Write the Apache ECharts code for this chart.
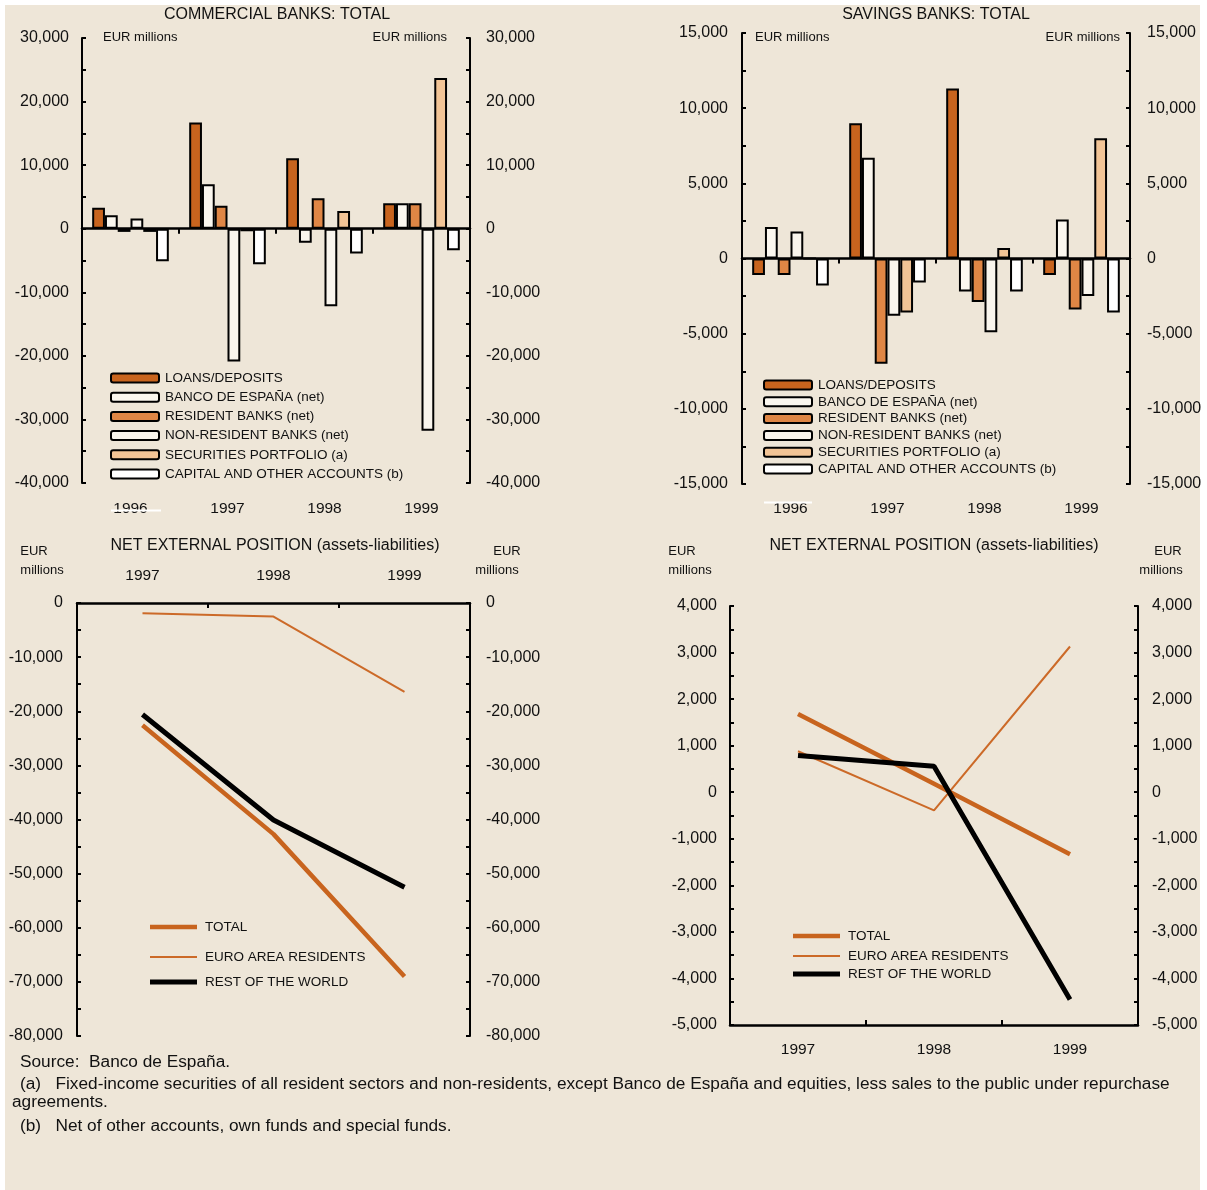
<!DOCTYPE html>
<html><head><meta charset="utf-8">
<script src="https://cdn.jsdelivr.net/npm/echarts@6/dist/echarts.min.js"></script>
<style>
html,body{margin:0;padding:0;background:#fff;}
#wrap{position:relative;width:1207px;height:1190px;}
#bg{position:absolute;left:5px;top:5px;width:1195px;height:1185px;background:#EEE6D8;}
#chart{position:absolute;left:0;top:0;width:1207px;height:1190px;}
</style></head><body>
<div id="wrap"><div id="bg"></div><div id="chart"></div></div>
<script>
// ---------- DATA ----------
const barYears = ['1996', '1997', '1998', '1999'];
const lineYears = ['1997', '1998', '1999'];
const barNames = ['LOANS/DEPOSITS', 'BANCO DE ESPAÑA (net)', 'RESIDENT BANKS (net)',
  'NON-RESIDENT BANKS (net)', 'SECURITIES PORTFOLIO (a)', 'CAPITAL AND OTHER ACCOUNTS (b)'];
const lineNames = ['TOTAL', 'EURO AREA RESIDENTS', 'REST OF THE WORLD'];

// Commercial banks (EUR millions)
const comLoans      = [3300, 16700, 11100, 4000];
const comBanco      = [2100, 7000, -2200, 4000];
const comResident   = [-500, 3600, 4800, 4000];
const comNonRes     = [1600, -20900, -12200, -31800];
const comSecurities = [-500, -400, 2800, 23700];
const comCapital    = [-5100, -5600, -3900, -3400];

// Savings banks (EUR millions)
const savLoans      = [-1100, 9000, 11300, -1100];
const savBanco      = [2100, 6700, -2200, 2600];
const savResident   = [-1100, -7000, -2900, -3400];
const savNonRes     = [1800, -3800, -4900, -2500];
const savSecurities = [0, -3600, 700, 8000];
const savCapital    = [-1800, -1600, -2200, -3600];

// Net external position, commercial banks
const comNetTotal = [-22600, -42700, -69000];
const comNetEuro  = [-1900, -2500, -16400];
const comNetRest  = [-20600, -40100, -52500];

// Net external position, savings banks
const savNetTotal = [1680, 180, -1330];
const savNetEuro  = [880, -390, 3130];
const savNetRest  = [790, 560, -4450];

// ---------- STYLE ----------
const FF = '"Liberation Sans", Arial, sans-serif';
const TXT = '#111';
const barColors = ['#C8641E', '#FBF7EF', '#DF8645', '#F9F5ED', '#F2C496', '#FFFFFF'];
const fmt = v => v.toLocaleString('en-US');

function yAx(grid, pos, min, max, interval, margin) {
  return {
    type: 'value', gridIndex: grid, position: pos, min: min, max: max, interval: interval,
    axisLine: { show: true, onZero: false, lineStyle: { color: '#000', width: 2 } },
    axisTick: { show: true, inside: true, length: 4, lineStyle: { color: '#000', width: 2 } },
    minorTick: { show: true, splitNumber: 2, length: 4, lineStyle: { color: '#000', width: 2 } },
    splitLine: { show: false },
    axisLabel: { margin: margin, fontSize: 16, color: TXT, fontFamily: FF, formatter: fmt, padding: [3, 0, 0, 0] }
  };
}
function xLabelAx(grid, data, pos, margin) {
  return {
    type: 'category', gridIndex: grid, data: data, position: pos,
    axisLine: { show: false, onZero: false }, axisTick: { show: false },
    axisLabel: { margin: margin, fontSize: 15.5, color: TXT, fontFamily: FF, interval: 0 },
    splitLine: { show: false }
  };
}
function xZeroAx(grid, data) {
  return {
    type: 'category', gridIndex: grid, data: data, position: 'top',
    axisLine: { show: true, onZero: true, lineStyle: { color: '#000', width: 2.5 } },
    axisTick: { show: true, inside: true, length: 5, lineStyle: { color: '#000', width: 2 } },
    axisLabel: { show: false }, splitLine: { show: false }
  };
}
function xLineAx(grid, data, pos, margin) {
  return {
    type: 'category', gridIndex: grid, data: data, position: pos,
    axisLine: { show: true, onZero: false, lineStyle: { color: '#000', width: 2.5 } },
    axisTick: { show: true, inside: true, length: 5, lineStyle: { color: '#000', width: 2 } },
    axisLabel: { margin: margin, fontSize: 15.5, color: TXT, fontFamily: FF, interval: 0 },
    splitLine: { show: false }
  };
}

function barSeries(values, xi, yi) {
  return values.map((vals, i) => ({
    name: barNames[i], type: 'bar', xAxisIndex: xi, yAxisIndex: yi, data: vals,
    barGap: '0%', barCategoryGap: '21%',
    itemStyle: { color: barColors[i], borderColor: '#000', borderWidth: 2 },
    emphasis: { disabled: true }, animation: false
  }));
}
const lineStyles = [
  { color: '#C8641E', width: 4.5 },
  { color: '#CC6A28', width: 2 },
  { color: '#000000', width: 5 }
];
function lineSeries(values, xi, yi) {
  return values.map((vals, i) => ({
    name: lineNames[i], type: 'line', xAxisIndex: xi, yAxisIndex: yi, data: vals,
    symbol: 'none', lineStyle: lineStyles[i], itemStyle: { color: lineStyles[i].color },
    emphasis: { disabled: true }, animation: false
  }));
}

function barLegend(left, top, gap) {
  return {
    orient: 'vertical', left: left, top: top, padding: 0, itemWidth: 48, itemHeight: 9, itemGap: gap,
    data: barNames, selectedMode: false,
    textStyle: { fontSize: 13.5, lineHeight: 14, color: TXT, fontFamily: FF, padding: [0, 0, 0, 1] }
  };
}
function lineLegend(left, centers) {
  return lineNames.map((n, i) => ({
    left: left, top: centers[i] - 8, padding: 0, data: [n], icon: 'rect',
    itemWidth: 47, itemHeight: lineStyles[i].width, selectedMode: false,
    textStyle: { fontSize: 13.5, lineHeight: 16, color: TXT, fontFamily: FF, padding: [0, 0, 0, 3] }
  }));
}

function txt(x, y, s, size, align) {
  return { type: 'text', x: x, y: y, silent: true,
    style: { text: s, fontSize: size, fontFamily: FF, fill: TXT, textAlign: align || 'left', textVerticalAlign: 'middle' } };
}

const option = {
  animation: false,
  grid: [
    { left: 82, top: 38, width: 388, height: 445 },
    { left: 742, top: 33, width: 388, height: 451 },
    { left: 77, top: 603, width: 393, height: 433 },
    { left: 730, top: 606, width: 408, height: 419 }
  ],
  xAxis: [
    xLabelAx(0, barYears, 'bottom', 18),
    xZeroAx(0, barYears),
    xLabelAx(1, barYears, 'bottom', 17),
    xZeroAx(1, barYears),
    xLineAx(2, lineYears, 'top', 19),
    xLineAx(3, lineYears, 'bottom', 17)
  ],
  yAxis: [
    yAx(0, 'left', -40000, 30000, 10000, 13),
    yAx(0, 'right', -40000, 30000, 10000, 16),
    yAx(1, 'left', -15000, 15000, 5000, 14),
    yAx(1, 'right', -15000, 15000, 5000, 17),
    yAx(2, 'left', -80000, 0, 10000, 14),
    yAx(2, 'right', -80000, 0, 10000, 16),
    yAx(3, 'left', -5000, 4000, 1000, 13),
    yAx(3, 'right', -5000, 4000, 1000, 14)
  ],
  legend: [
    barLegend(110, 371, 5.2),
    barLegend(763, 378, 2.8)
  ].concat(lineLegend(150, [927, 957, 982]), lineLegend(793, [936, 956, 974])),
  series: [].concat(
    barSeries([comLoans, comBanco, comResident, comNonRes, comSecurities, comCapital], 0, 0),
    barSeries([savLoans, savBanco, savResident, savNonRes, savSecurities, savCapital], 2, 2),
    lineSeries([comNetTotal, comNetEuro, comNetRest], 4, 4),
    lineSeries([savNetTotal, savNetEuro, savNetRest], 5, 6)
  ),
  graphic: [
    txt(277, 15, 'COMMERCIAL BANKS: TOTAL', 16, 'center'),
    txt(936, 15, 'SAVINGS BANKS: TOTAL', 16, 'center'),
    txt(275, 546, 'NET EXTERNAL POSITION (assets-liabilities)', 16, 'center'),
    txt(934, 546, 'NET EXTERNAL POSITION (assets-liabilities)', 16, 'center'),
    txt(103, 37, 'EUR millions', 13),
    txt(447, 37, 'EUR millions', 13, 'right'),
    txt(755, 37, 'EUR millions', 13),
    txt(1120, 37, 'EUR millions', 13, 'right'),
    txt(34, 551, 'EUR', 13, 'center'),
    txt(42, 570, 'millions', 13, 'center'),
    txt(507, 551, 'EUR', 13, 'center'),
    txt(497, 570, 'millions', 13, 'center'),
    txt(682, 551, 'EUR', 13, 'center'),
    txt(690, 570, 'millions', 13, 'center'),
    txt(1168, 551, 'EUR', 13, 'center'),
    txt(1161, 570, 'millions', 13, 'center'),
    { type: 'rect', x: 111, y: 509.5, shape: { width: 50, height: 2 }, style: { fill: '#fff' }, silent: true, z: 100 },
    { type: 'rect', x: 764, y: 501.5, shape: { width: 48, height: 2 }, style: { fill: '#fff' }, silent: true, z: 100 },
    txt(20, 1062, 'Source:  Banco de España.', 17.25),
    txt(20, 1084, '(a)   Fixed-income securities of all resident sectors and non-residents, except Banco de España and equities, less sales to the public under repurchase', 17.25),
    txt(12, 1102, 'agreements.', 17.25),
    txt(20, 1126, '(b)   Net of other accounts, own funds and special funds.', 17.25)
  ]
};

const chart = echarts.init(document.getElementById('chart'), null, { renderer: 'canvas' });
chart.setOption(option);
</script>
</body></html>
